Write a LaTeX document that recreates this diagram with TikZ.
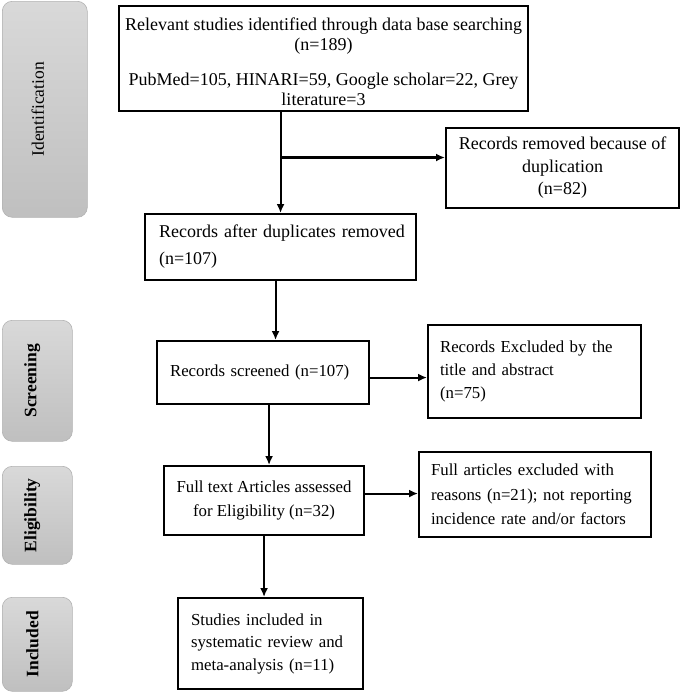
\documentclass[tikz,border=0pt]{standalone}
\usepackage{fontspec}
\setmainfont{Liberation Serif}
\usetikzlibrary{arrows.meta,calc}
\begin{document}
\begin{tikzpicture}[x=1pt,y=-1pt,
 box/.style={draw, line width=2.1pt, rectangle, inner ysep=0pt, anchor=north west},
 stage/.style={draw=black!30, line width=0.6pt, rounded corners=10pt, top color=black!15, bottom color=black!25, anchor=north west, inner sep=0pt},
 stagetext/.style={rotate=90, font=\fontsize{17.5}{20}\selectfont},
 arr/.style={line width=2.1pt, -{Latex[length=9pt,width=8pt]}}]
\useasboundingbox (0,0) rectangle (685,697);

% stage labels
\node[stage, minimum width=85pt, minimum height=216pt] (sid) at (2,1) {};
\node[stagetext] (tid) at ([xshift=-7pt]sid.center) {Identification};
\node[stage, minimum width=70pt, minimum height=121pt] (ssc) at (2,320) {};
\node[stagetext, font=\fontsize{17.5}{20}\selectfont\bfseries] (tsc) at ([xshift=-5pt]ssc.center) {Screening};
\node[stage, minimum width=70pt, minimum height=98pt] (sel) at (2,466) {};
\node[stagetext, font=\fontsize{17.5}{20}\selectfont\bfseries] (tel) at ([xshift=-5pt]sel.center) {Eligibility};
\node[stage, minimum width=70pt, minimum height=94pt] (sin) at (2,597) {};
\node[stagetext, font=\fontsize{17.5}{20}\selectfont\bfseries] (tin) at ([xshift=-5pt]sin.center) {Included};

% boxes
\node[box, font=\fontsize{18}{20}\selectfont, align=center, minimum width=409pt, minimum height=105pt, inner xsep=0pt] (b1) at (118,5)
  {\rule{0pt}{6pt}\\[-7pt]Relevant studies identified through data base searching\\ (n=189)\\[15pt] PubMed=105, HINARI=59, Google scholar=22, Grey\\ literature=3};
\node[box, font=\fontsize{18}{22.5}\selectfont, align=center, minimum width=233pt, minimum height=80pt] (dup) at (445,127)
  {Records removed because of\\ duplication\\ (n=82)};
\node[box, font=\fontsize{18}{27}\selectfont, align=left, text width=243pt, inner xsep=14pt, minimum height=66pt] (b2) at (144,213)
  {\mbox{Records after duplicates removed}\\ (n=107)};
\node[box, font=\fontsize{16.8}{23}\selectfont, align=left, text width=186pt, inner xsep=13pt, minimum height=63pt] (b3) at (156,340)
  {\mbox{Records screened (n=107)}};
\node[box, font=\fontsize{16.8}{23}\selectfont, align=left, text width=189pt, inner xsep=12pt, minimum height=93pt] (ex1) at (427,324)
  {\mbox{Records Excluded by the}\\ title and abstract\\ (n=75)};
\node[box, font=\fontsize{16.8}{23.5}\selectfont, align=center, minimum width=200pt, minimum height=69pt] (b4) at (163,465)
  {Full text Articles assessed\\ for Eligibility (n=32)};
\node[box, font=\fontsize{16.8}{24.5}\selectfont, align=left, text width=208pt, inner xsep=12pt, minimum height=85pt] (ex2) at (418,451)
  {\mbox{Full articles excluded with}\\ \mbox{reasons (n=21); not reporting}\\ \mbox{incidence rate and/or factors}};
\node[box, font=\fontsize{16.8}{22.5}\selectfont, align=left, text width=159pt, inner xsep=13pt, minimum height=91pt] (b5) at (177,597)
  {\mbox{Studies included in}\\ \mbox{systematic review and}\\ \mbox{meta-analysis (n=11)}};

% connectors
\draw[arr] (b1.south -| b2.north) -- (b2.north);
\coordinate (br) at ($(b1.south -| b2.north)!0.45!(b2.north)$);
\draw[arr] (br) -- (br -| dup.west);
\draw[arr] ([xshift=-5pt]b2.south) -- ([xshift=-5pt]b2.south |- b3.north);
\draw[arr] ([xshift=6pt]b3.south) -- ([xshift=6pt]b3.south |- b4.north);
\draw[arr] (b4.south) -- (b4.south |- b5.north);
\draw[arr] ([yshift=-5pt]b3.east) -- ([yshift=-5pt]b3.east -| ex1.west);
\draw[arr] ([yshift=7pt]b4.east) -- ([yshift=7pt]b4.east -| ex2.west);
\end{tikzpicture}
\end{document}
